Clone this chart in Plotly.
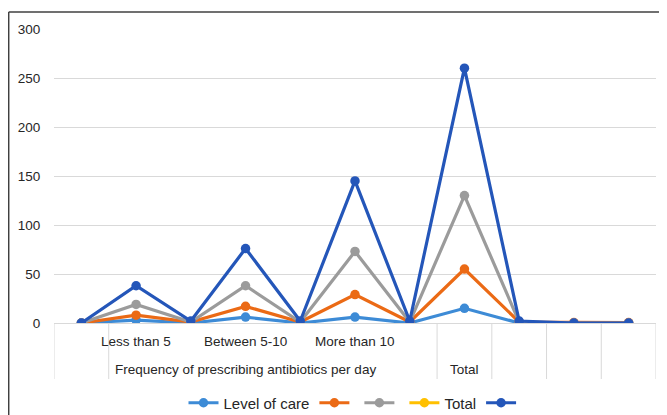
import plotly.graph_objects as go

# ---- data ----
categories = list(range(11))
level1_labels = ["", "Less than 5", "", "Between 5-10", "", "More than 10", "", "", "", "", ""]
level2_labels = ["Frequency of prescribing antibiotics per day", "Total"]
level2_spans = [(0, 6), (7, 7)]  # category index ranges for the outer labels

series_names = ["Level of care", "", "", "Total", ""]
level_of_care = [0, 3, 0, 6, 0, 6, 0, 15, 0, 0, 0]
series_orange = [0, 8, 1, 17, 1, 29, 1, 55, 1, 0.5, 0.5]
series_gray = [0, 19, 1, 38, 1, 73, 1, 130, 1, 0, 0]
series_total = [None] * 11
series_dark = [0, 38, 2, 76, 2, 145, 2, 260, 2, 0, 0]

y_ticks = [0, 50, 100, 150, 200, 250, 300]

colors = ["#3D8BD6", "#EB6A15", "#9B9B9B", "#FFC000", "#2456B9"]
all_series = [level_of_care, series_orange, series_gray, series_total, series_dark]

FONT = "Liberation Sans, Arial, sans-serif"

fig = go.Figure()
for name, vals, col in zip(series_names, all_series, colors):
    fig.add_trace(go.Scatter(
        x=categories, y=vals, name=name, mode="lines+markers",
        line=dict(color=col, width=3.2),
        marker=dict(color=col, size=9.5),
    ))

# page geometry: the figure sits at an 8px page offset
OFF = 8
W, H = 667 - OFF, 415 - OFF
PL, PR, PT, PB = 54, 656, 29, 323  # plot area in page pixels
L, R, T, B = PL - OFF, (W + OFF) - PR, PT - OFF, (H + OFF) - PB
plot_h = PB - PT
plot_w = PR - PL

def py(pix):
    return (PB - pix) / plot_h

def px(pix):
    return (pix - PL) / plot_w

shapes = []
# vertical dividers below axis
for b in [-0.5, 0.5, 6.5, 7.5, 8.5, 9.5, 10.5]:
    shapes.append(dict(type="line", xref="x", yref="paper", x0=b, x1=b,
                       y0=0, y1=py(379), line=dict(color="#D9D9D9", width=1)))
# outer border (top & left)
shapes.append(dict(type="line", xref="paper", yref="paper",
                   x0=px(8.7), x1=px(666), y0=py(12), y1=py(12),
                   line=dict(color="#404040", width=1.5)))
shapes.append(dict(type="line", xref="paper", yref="paper",
                   x0=px(8.7), x1=px(8.7), y0=py(12), y1=py(420),
                   line=dict(color="#404040", width=1.5)))

annotations = []
for i, lab in zip(categories, level1_labels):
    if lab:
        annotations.append(dict(x=i, y=py(341), xref="x", yref="paper", text=lab,
                                showarrow=False, font=dict(size=13.5, color="#262626", family=FONT),
                                xanchor="center", yanchor="middle"))
for lab, (a, b) in zip(level2_labels, level2_spans):
    annotations.append(dict(x=(a + b) / 2, y=py(369), xref="x", yref="paper", text=lab,
                            showarrow=False, font=dict(size=13.5, color="#262626", family=FONT),
                            xanchor="center", yanchor="middle"))

fig.update_layout(
    width=W, height=H,
    margin=dict(l=L, r=R, t=T, b=B, autoexpand=False),
    paper_bgcolor="white", plot_bgcolor="white",
    font=dict(family=FONT, size=13, color="#262626"),
    xaxis=dict(range=[-0.5, 10.5], showticklabels=False, showgrid=False,
               zeroline=False, showline=False, ticks="", automargin=False),
    yaxis=dict(range=[0, 300], tickvals=y_ticks, showgrid=True, gridcolor="#D9D9D9",
               gridwidth=1, zeroline=True, zerolinecolor="#D9D9D9", zerolinewidth=1,
               showline=False, ticks="outside", ticklen=10, tickcolor="rgba(0,0,0,0)",
               automargin=False,
               tickfont=dict(size=13.5, color="#262626", family=FONT)),
    legend=dict(orientation="h", x=0.5, xanchor="center", y=py(403), yanchor="middle",
                font=dict(size=15, color="#262626", family=FONT), itemwidth=30,
                traceorder="normal", bgcolor="rgba(0,0,0,0)"),
    shapes=shapes, annotations=annotations,
)

fig.write_html("out.html")
